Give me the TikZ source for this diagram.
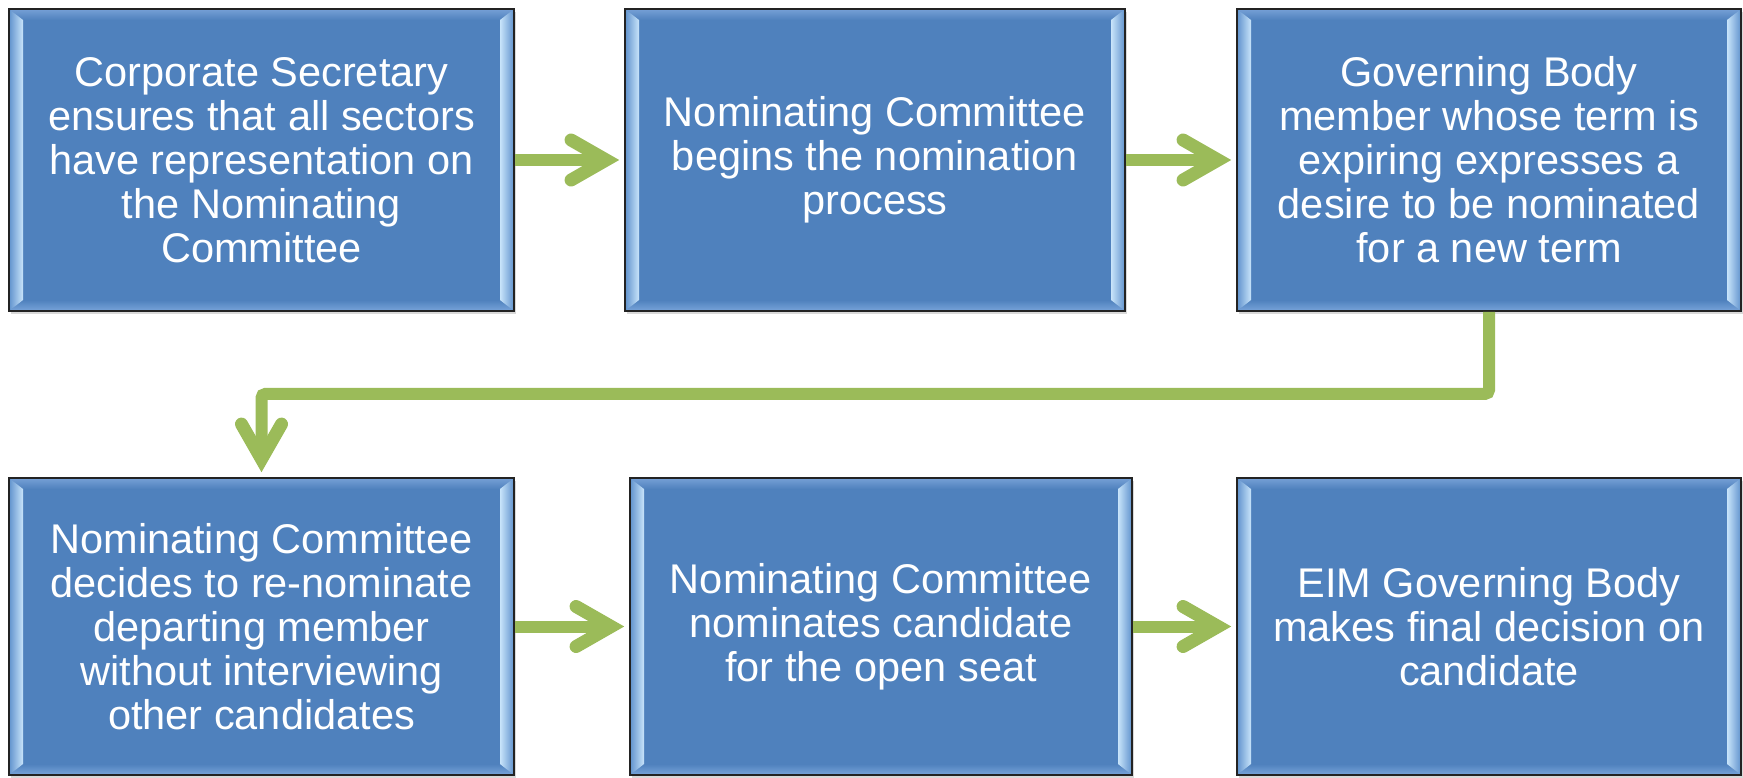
\documentclass[tikz,border=0pt]{standalone}
\usepackage{fontspec}
\usetikzlibrary{shadows,calc}
\newfontfamily\boxfont{Liberation Sans}
\definecolor{boxblue}{RGB}{79,129,189}
\definecolor{boxline}{RGB}{35,35,35}
\definecolor{bevlight}{RGB}{200,228,250}
\definecolor{bevmid}{RGB}{96,146,205}
\definecolor{bevtop}{RGB}{118,160,214}
\definecolor{bevbot}{RGB}{120,164,218}
\definecolor{arrowgreen}{RGB}{155,187,89}
\tikzset{
  box/.style={rectangle, draw=boxline, line width=1.8pt, fill=boxblue,
    text=white, align=center, inner sep=0pt,
    font={\boxfont\fontsize{41.5}{44}\selectfont},
    drop shadow={shadow xshift=1.5pt, shadow yshift=-3pt, opacity=0.3},
    path picture={
      \coordinate (bnw) at (path picture bounding box.north west);
      \coordinate (bne) at (path picture bounding box.north east);
      \coordinate (bsw) at (path picture bounding box.south west);
      \coordinate (bse) at (path picture bounding box.south east);
      \shade[top color=bevtop, bottom color=boxblue]
        (bnw) -- (bne) -- ([xshift=-14pt,yshift=-11pt]bne) -- ([xshift=14pt,yshift=-11pt]bnw) -- cycle;
      \shade[top color=boxblue, bottom color=bevbot]
        (bsw) -- (bse) -- ([xshift=-14pt,yshift=11pt]bse) -- ([xshift=14pt,yshift=11pt]bsw) -- cycle;
      \shade[left color=bevmid, right color=bevlight]
        (bnw) -- ([xshift=14pt,yshift=-11pt]bnw) -- ([xshift=14pt,yshift=11pt]bsw) -- (bsw) -- cycle;
      \shade[left color=bevlight, right color=bevmid]
        (bne) -- ([xshift=-14pt,yshift=-11pt]bne) -- ([xshift=-14pt,yshift=11pt]bse) -- (bse) -- cycle;
    }},
  conn/.style={draw=arrowgreen, line width=12pt},
  chev/.style={draw=arrowgreen, line width=13pt, line cap=round, line join=miter}
}
\begin{document}
\begin{tikzpicture}[x=1pt,y=-1pt]
\useasboundingbox (0,0) rectangle (1743,777);
% boxes
\node[box, minimum width=505pt, minimum height=302pt] (b1) at (261.5,160)
  {Corporate Secretary\\ensures that all sectors\\have representation on\\the Nominating\\Committee};
\node[box, minimum width=500pt, minimum height=302pt] (b2) at (875,160)
  {Nominating Committee\\begins the nomination\\process};
\node[box, minimum width=504pt, minimum height=302pt] (b3) at (1489,160)
  {Governing Body\\member whose term is\\expiring expresses a\\desire to be nominated\\for a new term};
\node[box, minimum width=505pt, minimum height=297pt] (b4) at (261.5,626.5)
  {Nominating Committee\\decides to re-nominate\\departing member\\without interviewing\\other candidates};
\node[box, minimum width=502pt, minimum height=297pt] (b5) at (881,626.5)
  {Nominating Committee\\nominates candidate\\for the open seat};
\node[box, minimum width=504pt, minimum height=297pt] (b6) at (1489,626.5)
  {EIM Governing Body\\makes final decision on\\candidate};
% connectors
\draw[conn] (b1.east) -- ([xshift=-18pt]b2.west);
\draw[chev] ([xshift=-53pt,yshift=20pt]b2.west) -- ([xshift=-18pt]b2.west) -- ([xshift=-53pt,yshift=-20pt]b2.west);
\draw[conn] (b2.east) -- ([xshift=-18pt]b3.west);
\draw[chev] ([xshift=-53pt,yshift=20pt]b3.west) -- ([xshift=-18pt]b3.west) -- ([xshift=-53pt,yshift=-20pt]b3.west);
\draw[conn, rounded corners=4pt] (b3.south) -- ++(0,82) -| ([yshift=18pt]b4.north);
\draw[chev] ([xshift=-20pt,yshift=53pt]b4.north) -- ([yshift=18pt]b4.north) -- ([xshift=20pt,yshift=53pt]b4.north);
\draw[conn] (b4.east) -- ([xshift=-18pt]b5.west);
\draw[chev] ([xshift=-53pt,yshift=20pt]b5.west) -- ([xshift=-18pt]b5.west) -- ([xshift=-53pt,yshift=-20pt]b5.west);
\draw[conn] (b5.east) -- ([xshift=-18pt]b6.west);
\draw[chev] ([xshift=-53pt,yshift=20pt]b6.west) -- ([xshift=-18pt]b6.west) -- ([xshift=-53pt,yshift=-20pt]b6.west);
\end{tikzpicture}
\end{document}
